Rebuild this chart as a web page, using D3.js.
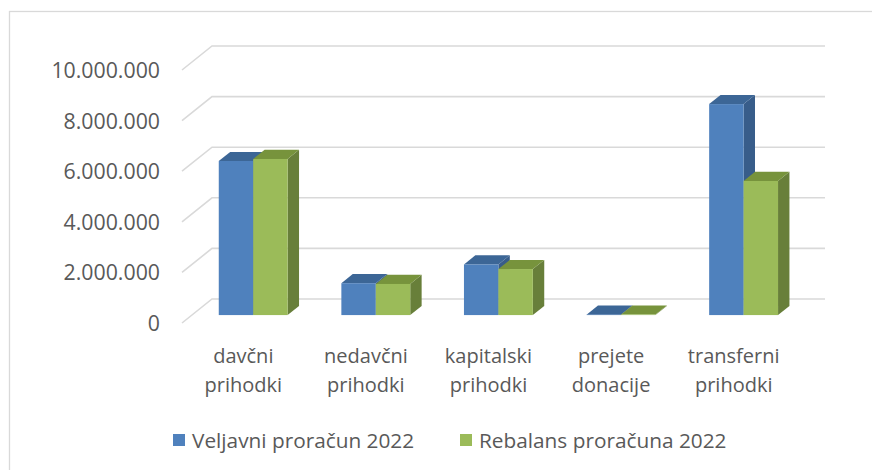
<!DOCTYPE html>
<html>
<head>
<meta charset="utf-8">
<script src="https://cdn.jsdelivr.net/npm/d3@7"></script>
<style>
  body { margin: 0; background: #fff; }
  text { font-family: 'Open Sans', sans-serif; fill: #595959; }
</style>
</head>
<body>
<svg id="chart" width="872" height="470"></svg>
<script>
const categories = [
  ['davčni', 'prihodki'],
  ['nedavčni', 'prihodki'],
  ['kapitalski', 'prihodki'],
  ['prejete', 'donacije'],
  ['transferni', 'prihodki']
]
const seriesNames = ['Veljavni proračun 2022', 'Rebalans proračuna 2022']
const veljavni = [6090000, 1260000, 2000000, 15000, 8340000]
const rebalans = [6170000, 1230000, 1820000, 20000, 5300000]
const yTicks = [0, 2000000, 4000000, 6000000, 8000000, 10000000]

const colors = [
  { front: '#4f81bd', top: '#3c6696', side: '#385d8a' },
  { front: '#9bbb59', top: '#77933c', side: '#687f3a' }
]

const svg = d3.select('#chart')

// depth of the box (back wall offset) and bar position inside it
const depth = { dx: 30, dy: 24 }
const barZ = [0.33, 0.71]
const proj = (x, y, z) => [x + z * depth.dx, y - z * depth.dy]

const x = d3.scaleBand()
  .domain(d3.range(categories.length))
  .range([182, 795])

const xSeries = d3.scaleBand()
  .domain(d3.range(seriesNames.length))
  .range([0, x.bandwidth()])
  .paddingOuter(0.78)

const y = d3.scaleLinear()
  .domain([0, 10000000])
  .range([323, 70])

const locale = d3.formatLocale({ decimal: ',', thousands: '.', grouping: [3], currency: ['', ''] })
const fmt = locale.format(',d')

// chart border
svg.append('rect')
  .attr('x', 9.5).attr('y', 11.5)
  .attr('width', 900).attr('height', 500)
  .attr('fill', 'none')
  .attr('stroke', '#d9d9d9')
  .attr('stroke-width', 1.3)

// gridlines on back wall and left side wall
const grid = svg.append('g')
  .attr('stroke', '#d9d9d9')
  .attr('stroke-width', 1.6)
  .attr('fill', 'none')
yTicks.forEach((t) => {
  const x0 = x.range()[0]
  const x1 = x.range()[1]
  const a = proj(x0, y(t), 0)
  const b = proj(x0, y(t), 1)
  const c = proj(x1, y(t), 1)
  grid.append('path').attr('d', d3.line()([a, b, c]))
})

// value axis
const yAxis = svg.append('g')
  .attr('transform', `translate(${x.range()[0]},0)`)
  .call(d3.axisLeft(y).tickValues(yTicks).tickFormat(fmt).tickSize(0).tickPadding(22))
yAxis.select('.domain').remove()
yAxis.selectAll('text')
  .attr('font-family', null)
  .style('font-size', '21.3px')
  .attr('fill', '#595959')
  .attr('dy', '0.35em')

// bars
const bars = svg.append('g')
const seriesValues = [veljavni, rebalans]
categories.forEach((cat, ci) => {
  seriesValues.forEach((vals, si) => {
    const c = colors[si]
    const xl = x(ci) + xSeries(si)
    const xr = xl + xSeries.bandwidth()
    const yt = y(vals[ci])
    const yb = y(0)
    const [z0, z1] = barZ
    const line = d3.line()
    // side face
    bars.append('path')
      .attr('d', line([proj(xr, yt, z0), proj(xr, yt, z1), proj(xr, yb, z1), proj(xr, yb, z0)]) + 'Z')
      .attr('fill', c.side)
    // top face
    bars.append('path')
      .attr('d', line([proj(xl, yt, z0), proj(xr, yt, z0), proj(xr, yt, z1), proj(xl, yt, z1)]) + 'Z')
      .attr('fill', c.top)
    // front face
    const f0 = proj(xl, yt, z0)
    const f1 = proj(xr, yb, z0)
    bars.append('rect')
      .attr('x', f0[0]).attr('y', f0[1])
      .attr('width', f1[0] - f0[0])
      .attr('height', Math.max(0, f1[1] - f0[1]))
      .attr('fill', c.front)
  })
})

// category labels
const catLabels = svg.append('g')
  .selectAll('text')
  .data(categories)
  .join('text')
  .attr('text-anchor', 'middle')
  .style('font-size', '20px')
  .attr('transform', (d, i) => `translate(${x(i) + x.bandwidth() / 2},0)`)
catLabels.selectAll('tspan')
  .data((d) => d)
  .join('tspan')
  .attr('x', 0)
  .attr('y', (d, i) => 363 + i * 29)
  .text((d) => d)

// legend
const legendX = [173, 460]
const legend = svg.append('g')
  .selectAll('g')
  .data(seriesNames)
  .join('g')
  .attr('transform', (d, i) => `translate(${legendX[i]},434)`)
legend.append('rect')
  .attr('width', 12).attr('height', 12)
  .attr('fill', (d, i) => colors[i].front)
legend.append('text')
  .attr('x', 19)
  .attr('y', 13.5)
  .style('font-size', '20.8px')
  .text((d) => d)
</script>
</body>
</html>
